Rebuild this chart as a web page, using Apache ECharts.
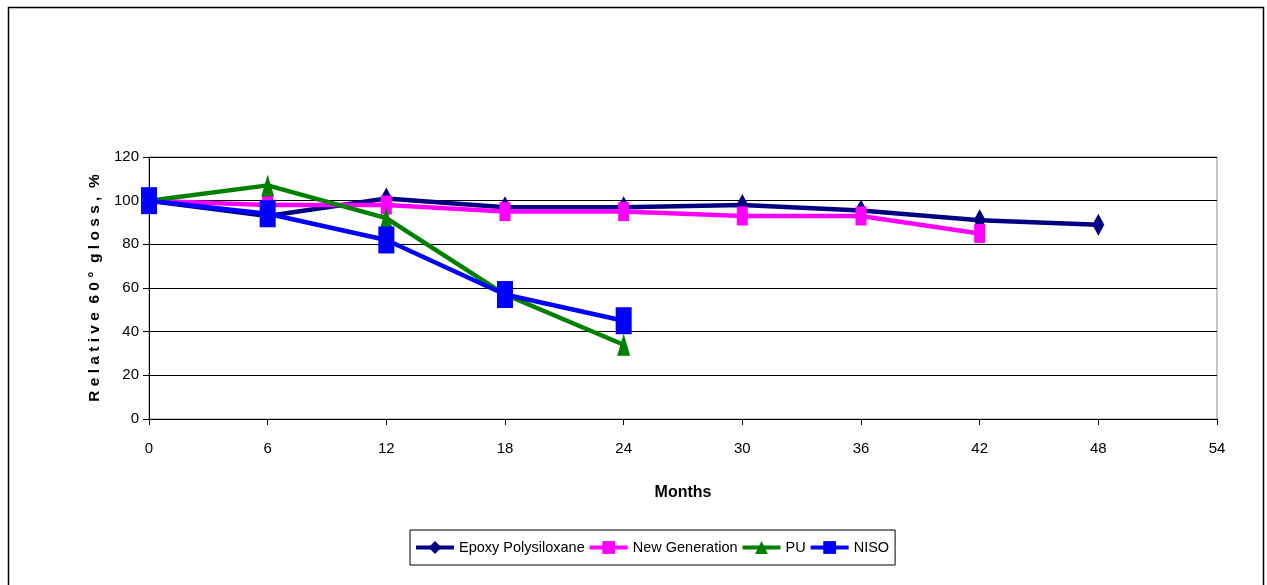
<!DOCTYPE html>
<html><head><meta charset="utf-8">
<script src="https://cdn.jsdelivr.net/npm/echarts@6/dist/echarts.min.js"></script>
<style>html,body{margin:0;padding:0;background:#fff}#c{width:1267px;height:585px}</style>
</head><body><div id="c"></div>
<script>
const months = [0, 6, 12, 18, 24, 30, 36, 42, 48];
const epoxyPolysiloxane = [100, 93, 101, 97, 97, 98, 95.5, 91, 89];
const newGeneration = [100, 98, 98, 95, 95, 93, 93, 85];
const pu = [100, 107, 92, 57, 34];
const niso = [100, 94, 82, 57, 45];
const seriesNames = ['Epoxy Polysiloxane', 'New Generation', 'PU', 'NISO'];

function pairs(vals) { return vals.map((v, i) => [months[i], v]); }

const chart = echarts.init(document.getElementById('c'), null, {renderer: 'canvas'});
const font = 'Liberation Sans, Arial, sans-serif';
chart.setOption({
  animation: false,
  backgroundColor: '#fff',
  graphic: [{
    type: 'rect', left: 6, top: 5, shape: {width: 1255, height: 590},
    style: {fill: 'none', stroke: '#000', lineWidth: 1.5}, silent: true
  }],
  grid: {left: 149, right: 50, top: 157, bottom: 166, show: true, borderColor: '#888', borderWidth: 1},
  legend: {
    bottom: 20, left: 410,
    data: seriesNames,
    itemWidth: 38, itemHeight: 16, itemGap: 3,
    padding: [10, 6, 10, 4],
    borderColor: '#000', borderWidth: 1,
    lineStyle: {width: 4},
    textStyle: {fontFamily: font, fontSize: 14.5, color: '#000'}
  },
  xAxis: {
    type: 'value', min: 0, max: 54, interval: 6,
    name: 'Months', nameLocation: 'middle', nameGap: 66,
    nameTextStyle: {fontFamily: font, fontWeight: 'bold', fontSize: 16, color: '#000'},
    axisLine: {lineStyle: {color: '#000', width: 1}},
    axisTick: {show: true, length: 6, lineStyle: {color: '#000'}},
    axisLabel: {fontFamily: font, fontSize: 15, color: '#000', margin: 22},
    splitLine: {show: false}
  },
  yAxis: {
    type: 'value', min: 0, max: 120, interval: 20,
    name: 'R e l a t i v e  6 0 °  g l o s s ,  %', nameLocation: 'middle', nameGap: 35,
    nameTextStyle: {fontFamily: font, fontWeight: 'bold', fontSize: 15.5, color: '#000'},
    axisLine: {show: true, lineStyle: {color: '#000', width: 1}},
    axisTick: {show: true, length: 6, lineStyle: {color: '#000'}},
    axisLabel: {fontFamily: font, fontSize: 15, color: '#000', margin: 10},
    splitLine: {show: true, lineStyle: {color: '#000', width: 1}}
  },
  series: [
    {name: seriesNames[0], type: 'line', data: pairs(epoxyPolysiloxane), symbol: 'diamond', symbolSize: [12, 22],
     lineStyle: {color: '#000080', width: 4.5}, itemStyle: {color: '#000080'}, z: 2},
    {name: seriesNames[1], type: 'line', data: pairs(newGeneration), symbol: 'rect', symbolSize: [11, 19],
     lineStyle: {color: '#ff00ff', width: 4.5}, itemStyle: {color: '#ff00ff'}, z: 3},
    {name: seriesNames[2], type: 'line', data: pairs(pu), symbol: 'triangle', symbolSize: [13, 22],
     lineStyle: {color: '#008000', width: 4.5}, itemStyle: {color: '#008000'}, z: 4},
    {name: seriesNames[3], type: 'line', data: pairs(niso), symbol: 'rect', symbolSize: [16, 27],
     lineStyle: {color: '#0000ff', width: 4.5}, itemStyle: {color: '#0000ff'}, z: 5}
  ]
});
</script></body></html>
